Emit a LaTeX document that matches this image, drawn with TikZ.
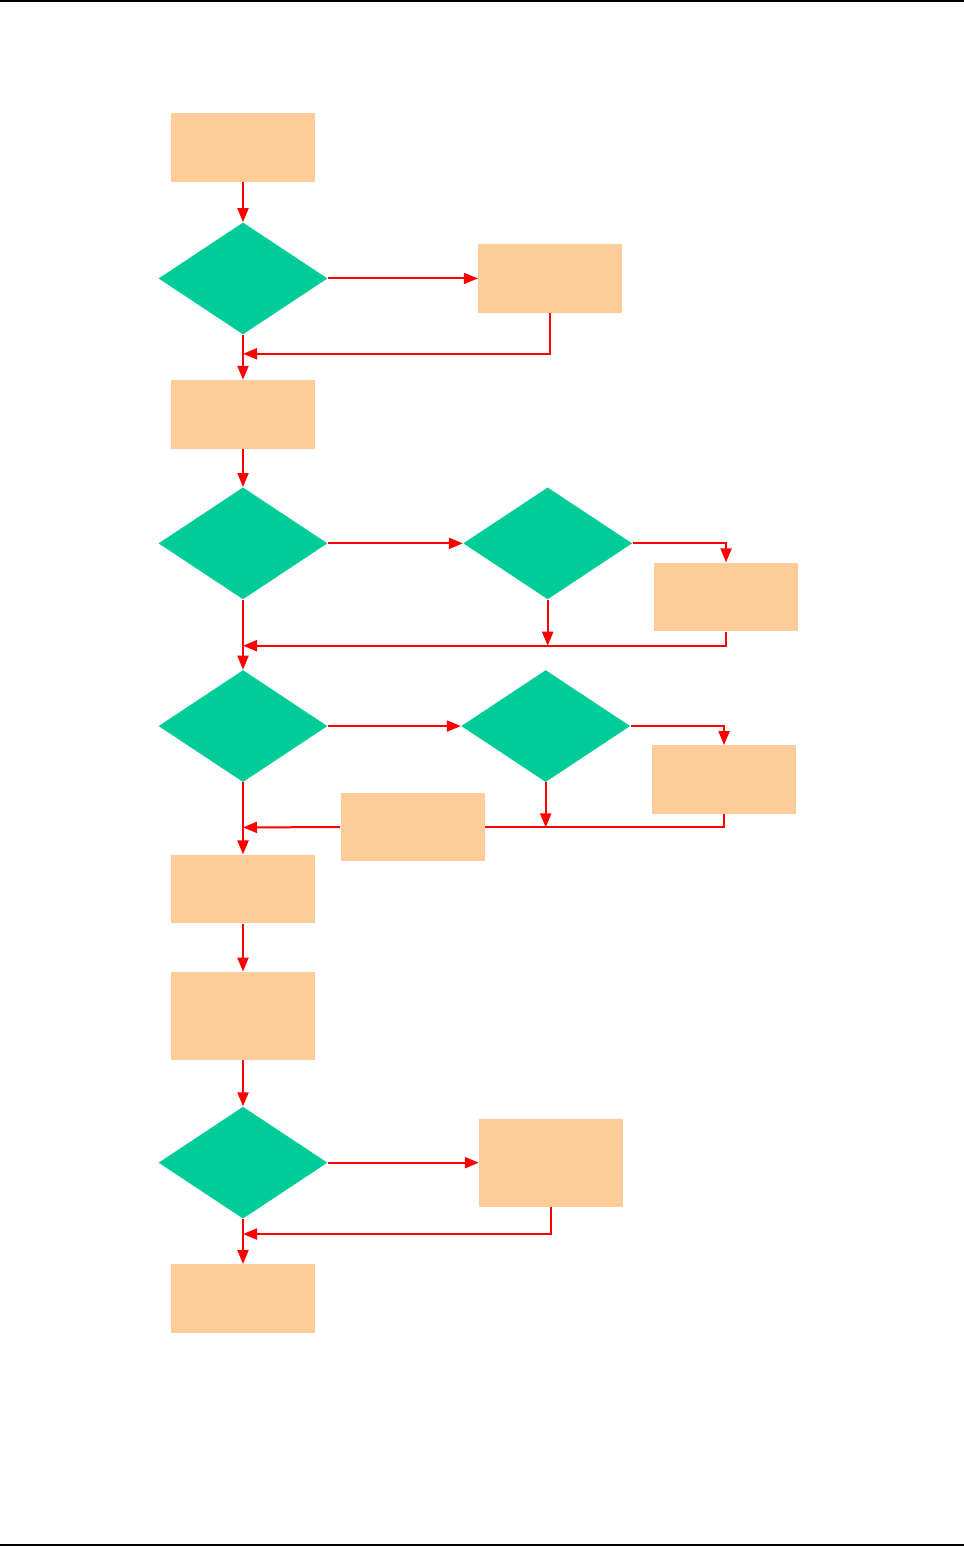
\documentclass[tikz,border=0pt]{standalone}
\usepackage{xcolor}
\usepackage{tikz}
\usetikzlibrary{positioning, arrows.meta, shapes.geometric, calc}

\definecolor{boxfill}{HTML}{FDCC99}
\definecolor{decfill}{HTML}{00CC99}

\begin{document}
\begin{tikzpicture}[
		node distance=0.8cm and 3cm,
		box/.style={rectangle, fill=boxfill, inner sep=0pt, minimum width=2.88cm, minimum height=1.37cm},
		tallbox/.style={box, minimum height=1.76cm},
		decision/.style={diamond, fill=decfill, inner sep=0pt, minimum width=3.38cm, minimum height=2.24cm},
		arrow/.style={-{Triangle[length=0.28cm, width=0.22cm]}, red, line width=0.04cm},
		link/.style={red, line width=0.04cm},
		rule/.style={black, line width=0.05cm}
		]

		\useasboundingbox (0,0) rectangle (19.28,-30.94);
		\draw[rule] (0,-0.02) -- (19.28,-0.02);
		\draw[rule] (0,-30.9) -- (19.28,-30.9);

		% main column
		\node[box] (start) at (4.86,-2.95) {};
		\node[decision, below=0.8cm of start] (dec1) {};
		\node[box, below=0.9cm of dec1] (proc1) {};
		\node[decision, below=0.76cm of proc1] (dec2) {};
		\node[decision, below=1.4cm of dec2] (dec4) {};
		\node[box, below=1.44cm of dec4] (proc2) {};
		\node[tallbox, below=0.96cm of proc2] (proc3) {};
		\node[decision, below=0.92cm of proc3] (dec6) {};
		\node[box, below=0.9cm of dec6] (stop) {};

		% side branches
		\node[box, right=3cm of dec1] (fix1) {};
		\node[decision, right=2.7cm of dec2] (dec3) {};
		\node[box, anchor=north] (fix2) at ([xshift=1.87cm, yshift=-0.38cm]dec3.east) {};
		\node[decision, right=2.66cm of dec4] (dec5) {};
		\node[box, anchor=north] (fix3) at ([xshift=1.87cm, yshift=-0.38cm]dec5.east) {};
		\node[box] (fix4) at ([xshift=3.39cm, yshift=-2.02cm]dec4.center) {};
		\node[tallbox, right=3.02cm of dec6] (fix5) {};

		% merge points on the main column
		\coordinate (m1) at ([yshift=-0.38cm]dec1.south);
		\coordinate (m2) at ([yshift=-0.92cm]dec2.south);
		\coordinate (m3) at ([yshift=-0.9cm]dec4.south);
		\coordinate (m4) at ([yshift=-0.3cm]dec6.south);

		\draw[arrow] (start) -- (dec1);
		\draw[arrow] (dec1.east) -- (fix1.west);
		\draw[arrow] (fix1.south) |- (m1);
		\draw[arrow] (dec1.south) -- (proc1.north);
		\draw[arrow] (proc1) -- (dec2);

		\draw[arrow] (dec2.east) -- (dec3.west);
		\draw[arrow] (dec3.east) -| (fix2.north);
		\draw[arrow] (dec3.south) -- (dec3.south |- m2);
		\draw[arrow] (fix2.south) |- (m2);
		\draw[arrow] (dec2.south) -- (dec4.north);

		\draw[arrow] (dec4.east) -- (dec5.west);
		\draw[arrow] (dec5.east) -| (fix3.north);
		\draw[arrow] (dec5.south) -- (dec5.south |- m3);
		\draw[link] (fix3.south) |- (fix4.east);
		\draw[arrow] (fix4.west) -- (m3);
		\draw[arrow] (dec4.south) -- (proc2.north);

		\draw[arrow] (proc2) -- (proc3);
		\draw[arrow] (proc3) -- (dec6);
		\draw[arrow] (dec6.east) -- (fix5.west);
		\draw[arrow] (fix5.south) |- (m4);
		\draw[arrow] (dec6.south) -- (stop.north);
	\end{tikzpicture}
\end{document}
